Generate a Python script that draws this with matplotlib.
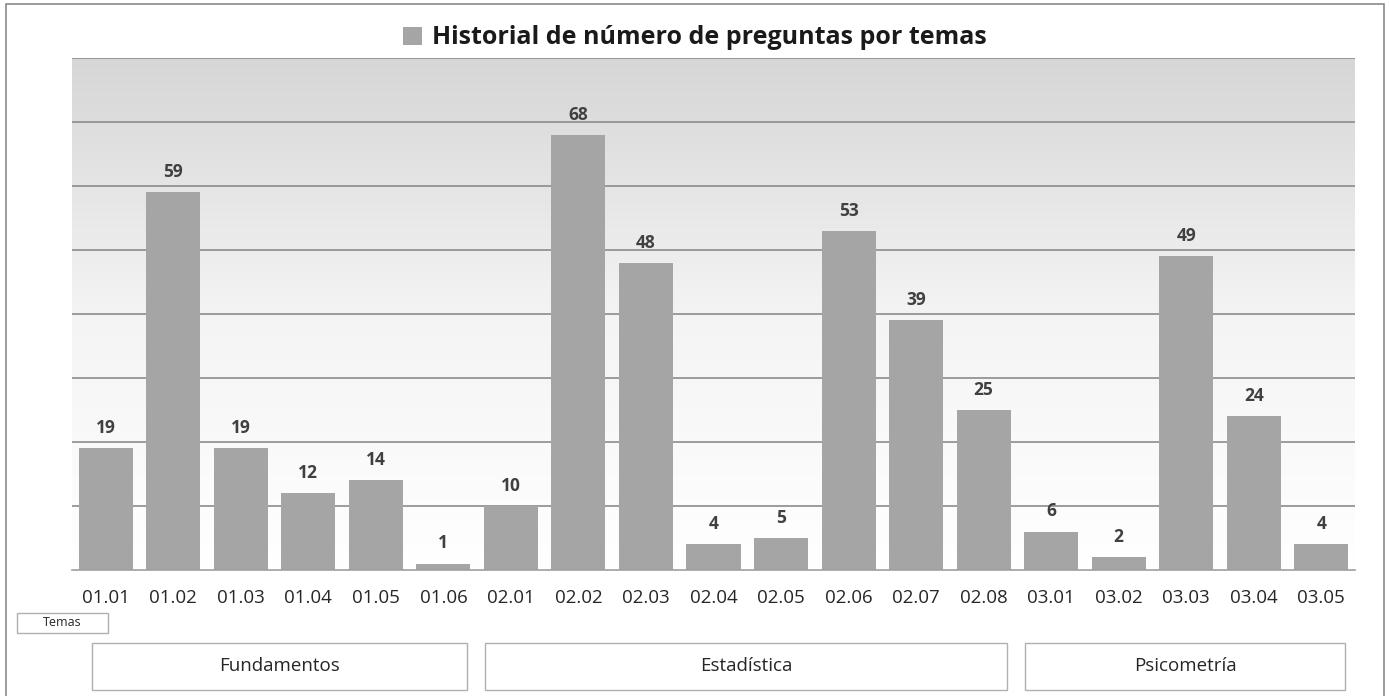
import numpy as np
import matplotlib.pyplot as plt
from matplotlib.patches import Rectangle
import matplotlib.transforms as mtransforms

plt.rcParams['font.family'] = ['Open Sans', 'DejaVu Sans']

# Data
temas = ['01.01', '01.02', '01.03', '01.04', '01.05', '01.06',
         '02.01', '02.02', '02.03', '02.04', '02.05', '02.06', '02.07', '02.08',
         '03.01', '03.02', '03.03', '03.04', '03.05']
preguntas = [19, 59, 19, 12, 14, 1,
             10, 68, 48, 4, 5, 53, 39, 25,
             6, 2, 49, 24, 4]
grupos = ['Fundamentos', 'Estadística', 'Psicometría']
grupo_n = [6, 8, 5]

bar_color = '#a5a5a5'
grid_color = '#8c8c8c'

fig = plt.figure(figsize=(13.89, 6.96), dpi=100)
W, H = 1389, 696
ax = fig.add_axes([72 / W, 1 - 570 / H, (1355 - 72) / W, (570 - 58) / H])

x = np.arange(len(temas))
ax.set_xlim(-0.5, len(temas) - 0.5)
ax.set_ylim(0, 80)

# gradient background (grey at top -> white at bottom)
grad = np.linspace(0, 1, 256).reshape(-1, 1)
ax.imshow(grad, extent=(-0.5, len(temas) - 0.5, 0, 80), origin='lower',
          aspect='auto', cmap=plt.cm.colors.LinearSegmentedColormap.from_list(
              'bg', ['#ffffff', '#f4f4f4', '#d6d6d6']), zorder=0)

ax.set_yticks(np.arange(10, 81, 10))
for g in np.arange(10, 81, 10):
    ax.axhline(g, color=grid_color, linewidth=1.2, zorder=1)

bars = ax.bar(x, preguntas, width=0.8, color=bar_color, zorder=2,
              label='Historial de número de preguntas por temas')
for xi, v in zip(x, preguntas):
    ax.annotate(str(v), (xi, v), xytext=(0, 8), textcoords='offset points',
                ha='center', va='bottom', fontsize=12.5, fontweight='bold',
                color='#404040')

ax.set_xticks(x)
ax.set_xticklabels(temas, fontsize=13.5, color='#262626')
ax.tick_params(axis='x', length=0, pad=14)
ax.tick_params(axis='y', length=0, labelleft=False)
for s in ['top', 'right', 'left']:
    ax.spines[s].set_visible(False)
ax.spines['bottom'].set_color('#a0a0a0')
ax.spines['bottom'].set_linewidth(1.2)

# title as legend
leg = fig.legend(handles=[bars], loc='center', bbox_to_anchor=(0.5, 1 - 38 / H),
                 frameon=False, fontsize=18, handlelength=0.75, handleheight=0.75,
                 handletextpad=0.4)
for t in leg.get_texts():
    t.set_fontweight('bold')
    t.set_color('#1a1a1a')

# outer border
fig.patches.append(Rectangle((6 / W, -0.01), (1384 - 6) / W, 1 - 4 / H + 0.01,
                             transform=fig.transFigure, fill=False,
                             edgecolor='#8a8a8a', linewidth=1.2))

# "Temas" field button
fig.patches.append(Rectangle((17 / W, 1 - 633 / H), (108 - 17) / W, 20 / H,
                             transform=fig.transFigure, fill=False,
                             edgecolor='#b0b0b0', linewidth=1))
fig.text(62.5 / W, 1 - 623 / H, 'Temas', ha='center', va='center', fontsize=9,
         color='#262626')

# group boxes
trans = mtransforms.blended_transform_factory(ax.transData, fig.transFigure)
start = -0.5
for i, (g, n) in enumerate(zip(grupos, grupo_n)):
    left = start + (0.3 if i == 0 else 0.12)
    right = start + n - 0.15
    fig.patches.append(Rectangle((left, 1 - 690 / H), right - left, 47 / H,
                                 transform=trans, fill=False,
                                 edgecolor='#b0b0b0', linewidth=1))
    fig.text((left + right) / 2, 1 - 666 / H, g, transform=trans,
             ha='center', va='center', fontsize=13.5, color='#262626')
    start += n

fig.savefig('out.png', dpi=100)
